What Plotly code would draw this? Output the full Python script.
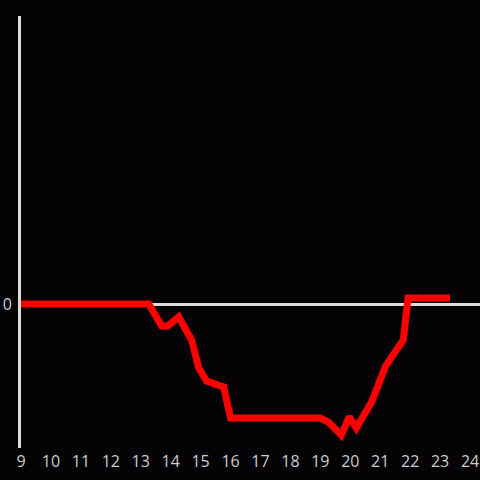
import plotly.graph_objects as go

hours = [9, 13.27, 13.7, 13.9, 14.27, 14.7, 14.93, 15.2, 15.77, 16.0, 19.0, 19.27,
         19.7, 19.97, 20.2, 20.72, 21.17, 21.77, 21.93, 23.33]
values = [0, 0, -1.53, -1.53, -0.9, -2.5, -4.4, -5.35, -5.76, -7.92, -7.92, -8.2,
          -9.1, -7.83, -8.61, -6.78, -4.35, -2.5, 0.42, 0.42]
x_ticks = list(range(9, 25))

bg = "#050306"
font = dict(color="#cccccc", size=16, family="Open Sans")
fig = go.Figure()
fig.add_trace(go.Scatter(x=hours, y=values, mode="lines",
                         line=dict(color="#ff0000", width=7), hoverinfo="skip"))
fig.update_layout(
    width=480, height=480,
    paper_bgcolor=bg, plot_bgcolor=bg,
    margin=dict(l=21, r=0, t=16, b=32),
    showlegend=False,
    xaxis=dict(range=[9, 24.333], tickvals=x_ticks, ticktext=[str(t) for t in x_ticks],
               showgrid=False, zeroline=False, showline=False,
               tickfont=font, ticks="", ticklabelstandoff=2),
    yaxis=dict(range=[-10, 20], tickvals=[0], ticktext=["0"],
               showgrid=False, zeroline=True, zerolinecolor="#dddddd", zerolinewidth=3,
               showline=True, linecolor="#dddddd", linewidth=3,
               tickfont=font, ticks="", ticklabelstandoff=3),
)
fig.write_html("out.html", config={"displayModeBar": False, "staticPlot": True},
               post_script="document.body.style.margin='0';document.body.style.background='#050306';document.body.style.overflow='hidden';")
